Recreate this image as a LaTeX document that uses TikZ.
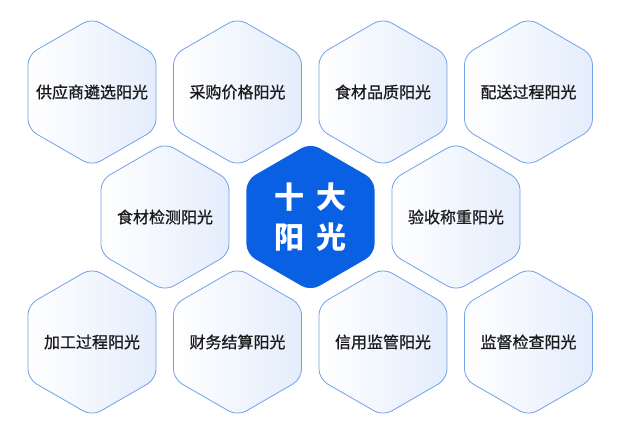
\documentclass[tikz,border=0pt]{standalone}
\usepackage{fontspec}
\setmainfont{Noto Sans CJK SC}
\newfontfamily\hexfont[FakeBold=0.8]{Noto Sans CJK SC}
\usetikzlibrary{shapes.geometric}

\definecolor{hexline}{HTML}{72A1E8}
\definecolor{hexfill}{HTML}{E4EDFC}
\definecolor{corefill}{HTML}{0A60E2}
\definecolor{hextext}{HTML}{1A1A1A}

\tikzstyle{hexa} = [regular polygon,regular polygon sides=6,shape border rotate=30,minimum size=148pt,inner sep=0pt,rounded corners=10pt,draw=hexline,line width=0.8pt,left color=white,right color=hexfill]
\tikzstyle{hextitle} = [text=hextext,font=\hexfont\fontsize{16}{20}\selectfont]
\tikzstyle{core} = [regular polygon,regular polygon sides=6,shape border rotate=30,minimum size=148pt,inner sep=0pt,rounded corners=10pt,fill=corefill,text=white,align=center,font=\fontsize{30}{40}\selectfont\bfseries]

\begin{document}
\begin{tikzpicture}[x=1pt,y=-1pt]
	\useasboundingbox[fill=white] (0,0) rectangle (621,434);
	
	\node[hexa,label={[hextitle]center:供应商遴选阳光}] (h1) at (92,92) {};
	\node[hexa,label={[hextitle]center:采购价格阳光}] (h2) at (237.5,92) {};
	\node[hexa,label={[hextitle]center:食材品质阳光}] (h3) at (383,92) {};
	\node[hexa,label={[hextitle]center:配送过程阳光}] (h4) at (528.5,92) {};
	
	\node[hexa,label={[hextitle]center:食材检测阳光}] (h5) at (165,217) {};
	\node[core] (c) at (310.5,217) {十\hspace{12pt}大\\阳\hspace{12pt}光};
	\node[hexa,label={[hextitle]center:验收称重阳光}] (h6) at (456,217) {};
	
	\node[hexa,label={[hextitle]center:加工过程阳光}] (h7) at (92,342) {};
	\node[hexa,label={[hextitle]center:财务结算阳光}] (h8) at (237.5,342) {};
	\node[hexa,label={[hextitle]center:信用监管阳光}] (h9) at (383,342) {};
	\node[hexa,label={[hextitle]center:监督检查阳光}] (h10) at (528.5,342) {};
\end{tikzpicture}
\end{document}
